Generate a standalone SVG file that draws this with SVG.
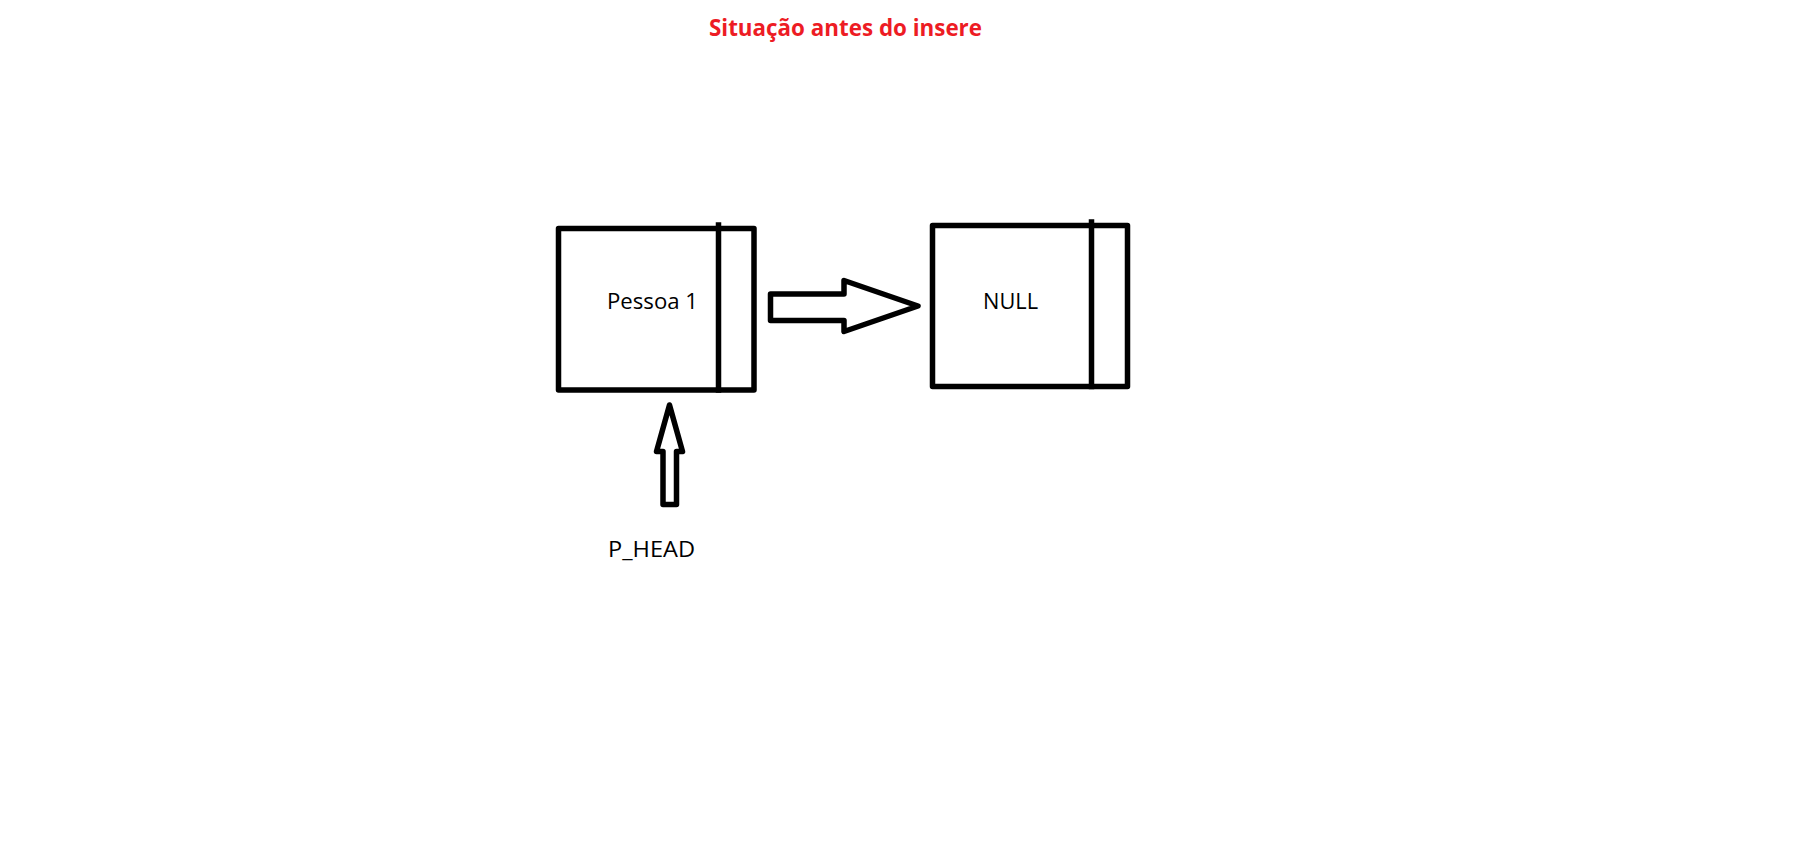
<svg xmlns="http://www.w3.org/2000/svg" width="1805" height="858" viewBox="0 0 1805 858">
<style>
.shape{fill:none;stroke:#000;stroke-width:5.5;stroke-linejoin:round;stroke-linecap:square}
.arrow{fill:#fff;stroke:#000;stroke-width:5.5;stroke-linejoin:round}
.lbl{font-family:"Open Sans","Noto Sans",sans-serif;font-size:22.5px;fill:#000}
.title{font-family:"Open Sans","Noto Sans",sans-serif;font-size:24px;font-weight:bold;fill:#ED1C24}
</style>
<rect width="1805" height="858" fill="#fff"/>
<text class="title" x="709" y="36" textLength="273" lengthAdjust="spacingAndGlyphs">Situação antes do insere</text>
<g id="node-pessoa1">
<rect class="shape" x="558.5" y="228.5" width="195.5" height="161.5"/>
<line class="shape" x1="718.5" y1="225" x2="718.5" y2="390"/>
<text class="lbl" x="607" y="309" textLength="91" lengthAdjust="spacingAndGlyphs">Pessoa 1</text>
</g>
<g id="node-null">
<rect class="shape" x="932.5" y="225.5" width="195" height="161"/>
<line class="shape" x1="1091.5" y1="222" x2="1091.5" y2="386.5"/>
<text class="lbl" x="983" y="309" textLength="55" lengthAdjust="spacingAndGlyphs">NULL</text>
</g>
<g id="node-phead">
<text class="lbl" x="608" y="557" textLength="87" lengthAdjust="spacingAndGlyphs">P_HEAD</text>
</g>
<g id="connectors">
<path class="arrow" d="M770.5,294 L844,294 L844,280.5 L918,306 L844,331.5 L844,320.5 L770.5,320.5 Z"/>
<path class="arrow" d="M669.5,405 L682.5,451.5 L676.5,451.5 L676.5,504.5 L663,504.5 L663,451.5 L656.5,451.5 Z"/>
</g>
</svg>
